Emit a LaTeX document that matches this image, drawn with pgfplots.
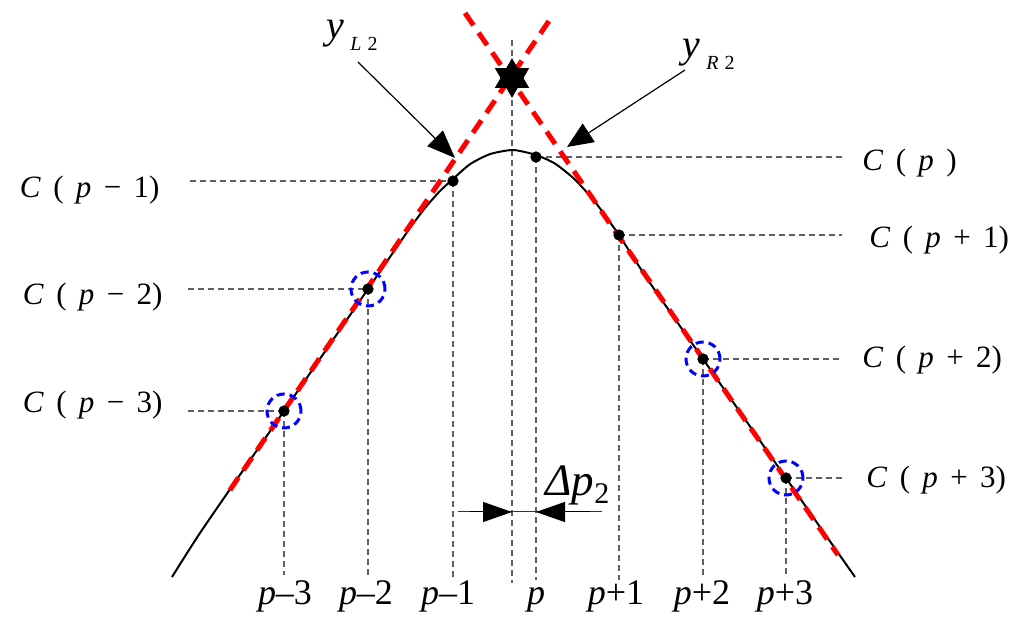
\documentclass[border=0pt]{standalone}
\usepackage{pgfplots}
\pgfplotsset{compat=1.18}
\usepackage{fontspec}
\setmainfont{Liberation Serif}
\usetikzlibrary{arrows.meta}
\newcommand{\gp}{\hspace{0.4em}}
\newcommand{\lab}{\fontsize{15.5}{18}\selectfont}
\newcommand{\blab}{\fontsize{18}{20}\selectfont}
\begin{document}
\begin{tikzpicture}
\begin{axis}[hide axis, scale only axis, width=512pt, height=312.5pt,
  xmin=0, xmax=1024, ymin=0, ymax=625, y dir=reverse, clip=false]
\addplot[draw=none] coordinates {(0,0) (1024,625)};
\pgfplotsset{guide/.style={gray!75!black, line width=0.6pt, dash pattern=on 3pt off 2pt}}
% vertical guides
\addplot[guide] coordinates {(512,40)(512,583)};
\addplot[guide] coordinates {(284,411)(284,575)};
\addplot[guide] coordinates {(368,289)(368,575)};
\addplot[guide] coordinates {(453,181)(453,578)};
\addplot[guide] coordinates {(536,157)(536,580)};
\addplot[guide] coordinates {(619,235)(619,580)};
\addplot[guide] coordinates {(703,359)(703,575)};
\addplot[guide] coordinates {(786,478)(786,575)};
% horizontal guides
\addplot[guide] coordinates {(190,181)(453,181)};
\addplot[guide] coordinates {(188,289)(368,289)};
\addplot[guide] coordinates {(188,411)(284,411)};
\addplot[guide] coordinates {(536,157)(842,157)};
\addplot[guide] coordinates {(619,235)(842,235)};
\addplot[guide] coordinates {(703,359)(842,359)};
\addplot[guide] coordinates {(786,478)(842,478)};
% curve
\addplot[black, line width=1pt, smooth, tension=0.4] table {
x y
172 577
200 533
250 460.3
284 411
340 329.7
368 289
390 257
410 228
425 208
440 191
453 179
470 164.2
490 154.1
513 150
536 155
555 163.6
575 179.6
595 201.8
606 217
619 235
650 283
703 359
750 426.4
786 478
820 527
855 577
};
% red tangent lines
\addplot[red, line width=2.5pt, dash pattern=on 7.5pt off 4.5pt] coordinates {(230,490)(553,15)};
\addplot[red, line width=2.5pt, dash pattern=on 7.5pt off 4.5pt] coordinates {(465,13)(838,555)};
% blue circles
\addplot[only marks, mark=o, mark size=8.5pt, mark options={blue, line width=1.5pt, dash pattern=on 4pt off 2.5pt}] coordinates {(284,411)(368,289)(703,359)(786,478)};
% sample dots
\addplot[only marks, mark=*, mark size=2.6pt, black] coordinates {(284,411)(368,289)(453,181)(536,157)(619,235)(703,359)(786,478)};
% star
\addplot[only marks, mark=triangle*, mark size=9.5pt, black] coordinates {(512,78)};
\addplot[only marks, mark=triangle*, mark size=9.5pt, black, mark options={rotate=180}] coordinates {(512,78)};
% annotation arrows
\addplot[black, line width=0.6pt, -{Triangle[length=14pt,width=11pt]}] coordinates {(358,62)(455,158)};
\addplot[black, line width=0.6pt, -{Triangle[length=13pt,width=11pt]}] coordinates {(685,70)(567,147)};
\addplot[black!80, line width=0.5pt] coordinates {(458,512)(602,512)};
\addplot[black, line width=0.5pt, -{Triangle[length=14.5pt,width=10pt]}] coordinates {(470,512)(512,512)};
\addplot[black, line width=0.5pt, -{Triangle[length=14.5pt,width=10pt]}] coordinates {(590,512)(536,512)};
% left labels
\node[anchor=east, inner sep=0pt] at (axis cs:160,190) {\lab\textit{C}\gp(\gp\textit{p}\gp−\gp1)};
\node[anchor=east, inner sep=0pt] at (axis cs:163,297) {\lab\textit{C}\gp(\gp\textit{p}\gp−\gp2)};
\node[anchor=east, inner sep=0pt] at (axis cs:163,405) {\lab\textit{C}\gp(\gp\textit{p}\gp−\gp3)};
% right labels
\node[anchor=west, inner sep=0pt] at (axis cs:862,163) {\lab\textit{C}\gp(\gp\textit{p}\gp)};
\node[anchor=west, inner sep=0pt] at (axis cs:869,240) {\lab\textit{C}\gp(\gp\textit{p}\gp+\gp1)};
\node[anchor=west, inner sep=0pt] at (axis cs:862,360) {\lab\textit{C}\gp(\gp\textit{p}\gp+\gp2)};
\node[anchor=west, inner sep=0pt] at (axis cs:866,480) {\lab\textit{C}\gp(\gp\textit{p}\gp+\gp3)};
% bottom labels
\node[anchor=base, inner sep=0pt] at (axis cs:285,605) {\blab\textit{p}–3};
\node[anchor=base, inner sep=0pt] at (axis cs:366,605) {\blab\textit{p}–2};
\node[anchor=base, inner sep=0pt] at (axis cs:448,605) {\blab\textit{p}–1};
\node[anchor=base, inner sep=0pt] at (axis cs:536,605) {\blab\textit{p}};
\node[anchor=base, inner sep=0pt] at (axis cs:616,605) {\blab\textit{p}+1};
\node[anchor=base, inner sep=0pt] at (axis cs:702,605) {\blab\textit{p}+2};
\node[anchor=base, inner sep=0pt] at (axis cs:785,605) {\blab\textit{p}+3};
% delta p
\node[anchor=base west, inner sep=0pt] at (axis cs:545,496) {\fontsize{22.5}{24}\selectfont\textit{Δp}\raisebox{-4pt}{\fontsize{15}{15}\selectfont 2}};
% y labels
\node[anchor=base west, inner sep=0pt] at (axis cs:326,39) {\fontsize{20}{22}\selectfont\textit{y}};
\node[anchor=base west, inner sep=0pt] at (axis cs:350,51) {\fontsize{10}{11}\selectfont\textit{L}\hspace{0.3em}2};
\node[anchor=base west, inner sep=0pt] at (axis cs:682,58) {\fontsize{20}{22}\selectfont\textit{y}};
\node[anchor=base west, inner sep=0pt] at (axis cs:706,70) {\fontsize{10}{11}\selectfont\textit{R}\hspace{0.3em}2};
\end{axis}
\end{tikzpicture}
\end{document}
